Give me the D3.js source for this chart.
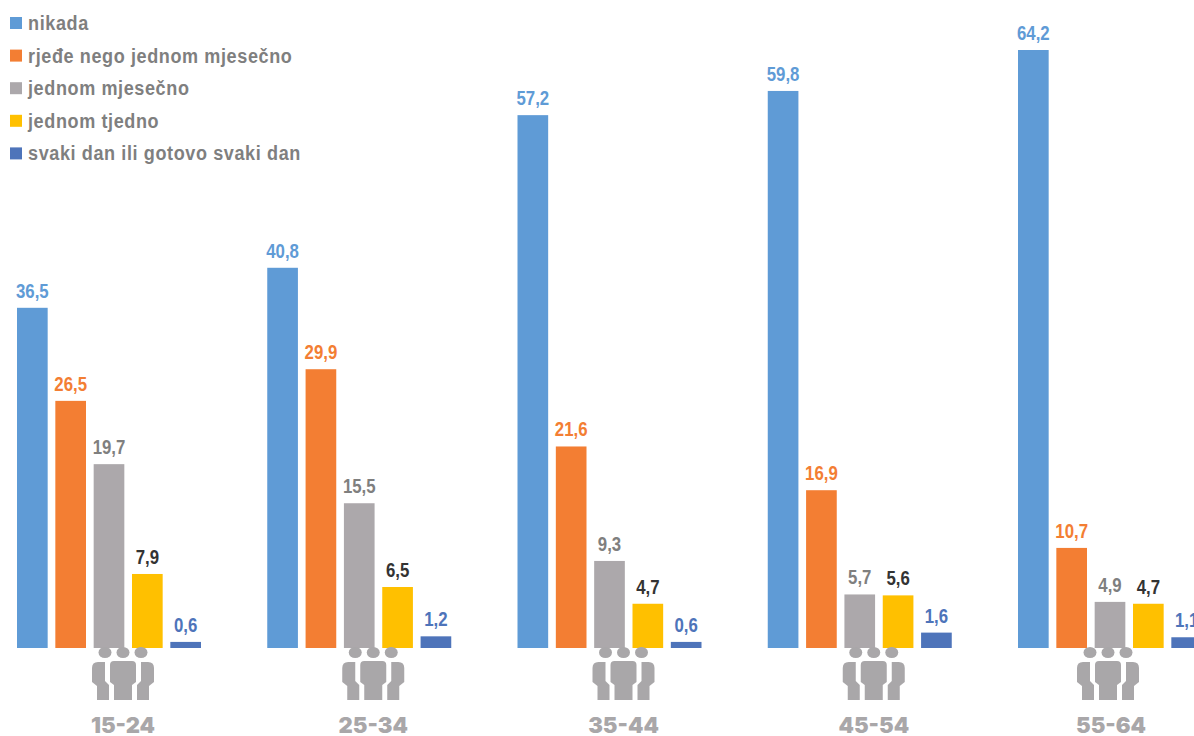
<!DOCTYPE html>
<html>
<head>
<meta charset="utf-8">
<script src="https://cdn.jsdelivr.net/npm/d3@7"></script>
<style>
  html, body { margin: 0; padding: 0; background: #fff; overflow: hidden; }
  svg { display: block; }
  .legend-label { font: bold 21px "Liberation Sans", sans-serif; fill: #7f7f7f; letter-spacing: 0.7px; }
  .value-label { font: bold 21px "Liberation Sans", sans-serif; text-anchor: middle; }
  .age-axis text { font: 900 22px "Inter", "Open Sans", sans-serif; fill: #a9a7a9; }
</style>
</head>
<body>
<div id="chart"></div>
<script>
const ageGroups = ["15-24", "25-34", "35-44", "45-54", "55-64"];
const seriesNames = [
  "nikada",
  "rjeđe nego jednom mjesečno",
  "jednom mjesečno",
  "jednom tjedno",
  "svaki dan ili gotovo svaki dan",
];
const nikada = [36.5, 40.8, 57.2, 59.8, 64.2];
const rjede = [26.5, 29.9, 21.6, 16.9, 10.7];
const jednomMjesecno = [19.7, 15.5, 9.3, 5.7, 4.9];
const jednomTjedno = [7.9, 6.5, 4.7, 5.6, 4.7];
const svakiDan = [0.6, 1.2, 0.6, 1.6, 1.1];
const seriesValues = [nikada, rjede, jednomMjesecno, jednomTjedno, svakiDan];

const barColors = ["#5f9bd6", "#f37e33", "#aca8ab", "#ffc000", "#4e74ba"];
const labelColors = ["#5f9bd6", "#f37e33", "#7f7f7f", "#333333", "#4e74ba"];

const width = 1194;
const height = 736;
const baseline = 648;

const svg = d3
  .select("#chart")
  .append("svg")
  .attr("width", width)
  .attr("height", height);

const yScale = d3.scaleLinear().domain([0, 64.2]).range([baseline - 0.5, 50]);
const groupScale = d3.scaleBand().domain(ageGroups).range([17, 17 + 5 * 250.25]);
const barScale = d3
  .scaleBand()
  .domain(seriesNames)
  .range([0, 184])
  .paddingInner(0.2);
const commaFormat = (v) => d3.format(".1f")(v).replace(".", ",");

// the last group's icon and label sit left of the group's centre
const iconCentre = (d) =>
  groupScale(d) + 106 - (d === "55-64" ? 16 : 0);
const labelCentre = (d) =>
  groupScale(d) + 106 - (d === "55-64" ? 13 : 0);

const groups = svg
  .selectAll(".age-group")
  .data(ageGroups)
  .enter()
  .append("g")
  .attr("class", "age-group")
  .attr("transform", (d) => `translate(${groupScale(d)}, 0)`);

seriesNames.forEach((name, s) => {
  groups
    .append("rect")
    .attr("x", barScale(name))
    .attr("width", barScale.bandwidth())
    .attr("y", (d, i) => yScale(seriesValues[s][i]))
    .attr("height", (d, i) => baseline - yScale(seriesValues[s][i]))
    .attr("fill", barColors[s]);

  // squeezed sideways, the narrow font is not available
  groups
    .append("text")
    .attr("class", "value-label")
    .attr(
      "transform",
      (d, i) =>
        `translate(${barScale(name) + barScale.bandwidth() / 2}, ${
          yScale(seriesValues[s][i]) - 10
        }) scale(0.8, 1)`
    )
    .attr("fill", labelColors[s])
    .text((d, i) => commaFormat(seriesValues[s][i]));
});

// people icon under each group, origin at the icon centre
function drawPeople(g) {
  const grey = "#a9a7a9";
  [-18, 0, 18].forEach((cx) => {
    g.append("ellipse")
      .attr("cx", cx)
      .attr("cy", 4.5)
      .attr("rx", 6.5)
      .attr("ry", 5.5)
      .attr("fill", grey);
  });
  g.append("path")
    .attr("fill", grey)
    .attr(
      "d",
      "M-13 17 Q-13 13 -9 13 L9 13 Q13 13 13 17 L13 34 L9 37 L9 52 L-9 52 L-9 37 L-13 34 Z"
    );
  g.append("path")
    .attr("fill", grey)
    .attr(
      "d",
      "M-18 14 L-25 14 Q-31 14 -31 20 L-31 34 L-26 38 L-26 52 L-14 52 L-14 37 L-18 33 Z"
    );
  g.append("path")
    .attr("fill", grey)
    .attr(
      "d",
      "M18 14 L25 14 Q31 14 31 20 L31 34 L26 38 L26 52 L14 52 L14 37 L18 33 Z"
    );
}

svg
  .selectAll(".people")
  .data(ageGroups)
  .enter()
  .append("g")
  .attr("class", "people")
  .attr("transform", (d) => `translate(${iconCentre(d)}, 648)`)
  .each(function () {
    drawPeople(d3.select(this));
  });

const ageAxis = d3
  .axisBottom(groupScale)
  .tickSize(0)
  .tickPadding(0);

svg
  .append("g")
  .attr("class", "age-axis")
  .attr("transform", "translate(0, 717)")
  .call(ageAxis)
  .call((g) => g.select(".domain").remove())
  .selectAll(".tick")
  .attr("transform", (d) => `translate(${labelCentre(d)}, 0)`);

const legend = svg
  .selectAll(".legend-item")
  .data(seriesNames)
  .enter()
  .append("g")
  .attr("class", "legend-item")
  .attr("transform", (d, i) => `translate(10, ${23 + i * 32.6})`);

legend
  .append("rect")
  .attr("y", -6)
  .attr("width", 12)
  .attr("height", 12)
  .attr("fill", (d, i) => barColors[i]);

legend
  .append("text")
  .attr("class", "legend-label")
  .attr("transform", "translate(18, 7) scale(0.86, 1)")
  .text((d) => d);
</script>
</body>
</html>
